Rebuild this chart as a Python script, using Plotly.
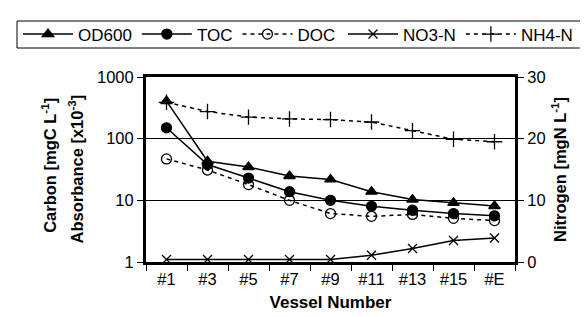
import plotly.graph_objects as go

vessels = ["#1", "#3", "#5", "#7", "#9", "#11", "#13", "#15", "#E"]
od600 = [407, 43, 34.7, 24.8, 21.8, 13.8, 10.3, 9.1, 8.1]
toc = [150, 38, 23, 13.8, 10, 8, 6.9, 6.1, 5.6]
doc = [47, 31, 18, 10, 6.1, 5.5, 5.9, 5.1, 4.7]
no3n = [0.4, 0.4, 0.4, 0.4, 0.4, 1.1, 2.2, 3.5, 3.9]
nh4n = [25.9, 24.4, 23.5, 23.2, 23.1, 22.7, 21.3, 19.9, 19.5]

FONT = "Liberation Sans, Arial, sans-serif"
fig = go.Figure()

def add(name, y, symbol, dash, axis, legend, size=10):
    fig.add_trace(go.Scatter(
        x=vessels, y=y, name=name, mode="lines+markers", yaxis=axis,
        legend=legend,
        line=dict(color="black", width=1.5, dash=dash),
        marker=dict(symbol=symbol, size=size, color="black",
                    line=dict(color="black", width=1.3)),
        cliponaxis=False))

DASH = "4px,4px"
add("OD600", od600, "triangle-up", "solid", "y", "legend")
add("TOC", toc, "circle", "solid", "y", "legend")
add("DOC", doc, "circle-open", DASH, "y", "legend")
add("NO3-N", no3n, "x-thin", "solid", "y2", "legend2", 9)
add("NH4-N", nh4n, "cross-thin", DASH, "y2", "legend2", 11)

PL, PR, PT, PB = 138, 81, 69, 63
W, H = 588, 317
pw, ph = W - PL - PR, H - PT - PB

def px_x(p):
    return (p - PL) / pw

def px_y(p):
    return (H - PB - p) / ph

leg_common = dict(orientation="h", xanchor="left", yanchor="middle",
                  yref="paper", y=px_y(26.5), borderwidth=0,
                  bgcolor="rgba(0,0,0,0)", font=dict(size=17),
                  itemwidth=50, tracegroupgap=0)

title_font = dict(size=16.5, family=FONT, color="black")
fig.update_layout(
    width=W, height=H,
    margin=dict(l=PL, r=PR, t=PT, b=PB, autoexpand=False),
    paper_bgcolor="white", plot_bgcolor="white",
    font=dict(family=FONT, size=16.5, color="black"),
    showlegend=True,
    legend=dict(x=px_x(10), **leg_common),
    legend2=dict(x=px_x(335), **leg_common),
    shapes=[dict(type="rect", xref="paper", yref="paper",
                 x0=px_x(9), x1=px_x(600), y0=px_y(40), y1=px_y(13),
                 line=dict(color="black", width=1), layer="below")],
    annotations=[
        dict(text="<b>Carbon [mgC L<sup>-1</sup>]</b>", textangle=-90,
             xref="paper", yref="paper", x=px_x(41), y=0.52,
             xanchor="center", yanchor="middle", showarrow=False,
             font=title_font),
        dict(text="<b>Absorbance [x10<sup>-3</sup>]</b>", textangle=-90,
             xref="paper", yref="paper", x=px_x(68), y=0.5,
             xanchor="center", yanchor="middle", showarrow=False,
             font=title_font),
    ],
    xaxis=dict(type="category", range=[-0.5, 8.5], showline=True,
               linecolor="black", linewidth=3, mirror=True,
               ticks="outside", tickson="boundaries", ticklen=6,
               tickcolor="black", tickwidth=1, showgrid=False,
               title=dict(text="<b>Vessel Number</b>", standoff=10,
                          font=dict(size=17))),
    yaxis=dict(type="log", range=[0, 3], tickvals=[1, 10, 100, 1000],
               ticktext=["1", "10", "100", "1000"],
               showline=True, linecolor="black", linewidth=3,
               ticks="outside", ticklen=6, tickcolor="black", tickwidth=1,
               showgrid=True, gridcolor="black", gridwidth=1,
               zeroline=False),
    yaxis2=dict(overlaying="y", side="right", range=[0, 30],
                tickvals=[0, 10, 20, 30], showline=True, linecolor="black",
                linewidth=3, ticks="outside", ticklen=6, tickcolor="black",
                tickwidth=1, showgrid=False, zeroline=False,
                title=dict(text="<b>Nitrogen [mgN L<sup>-1</sup>]</b>",
                           standoff=10, font=dict(size=16.5))),
)

fig.write_html("out.html")
